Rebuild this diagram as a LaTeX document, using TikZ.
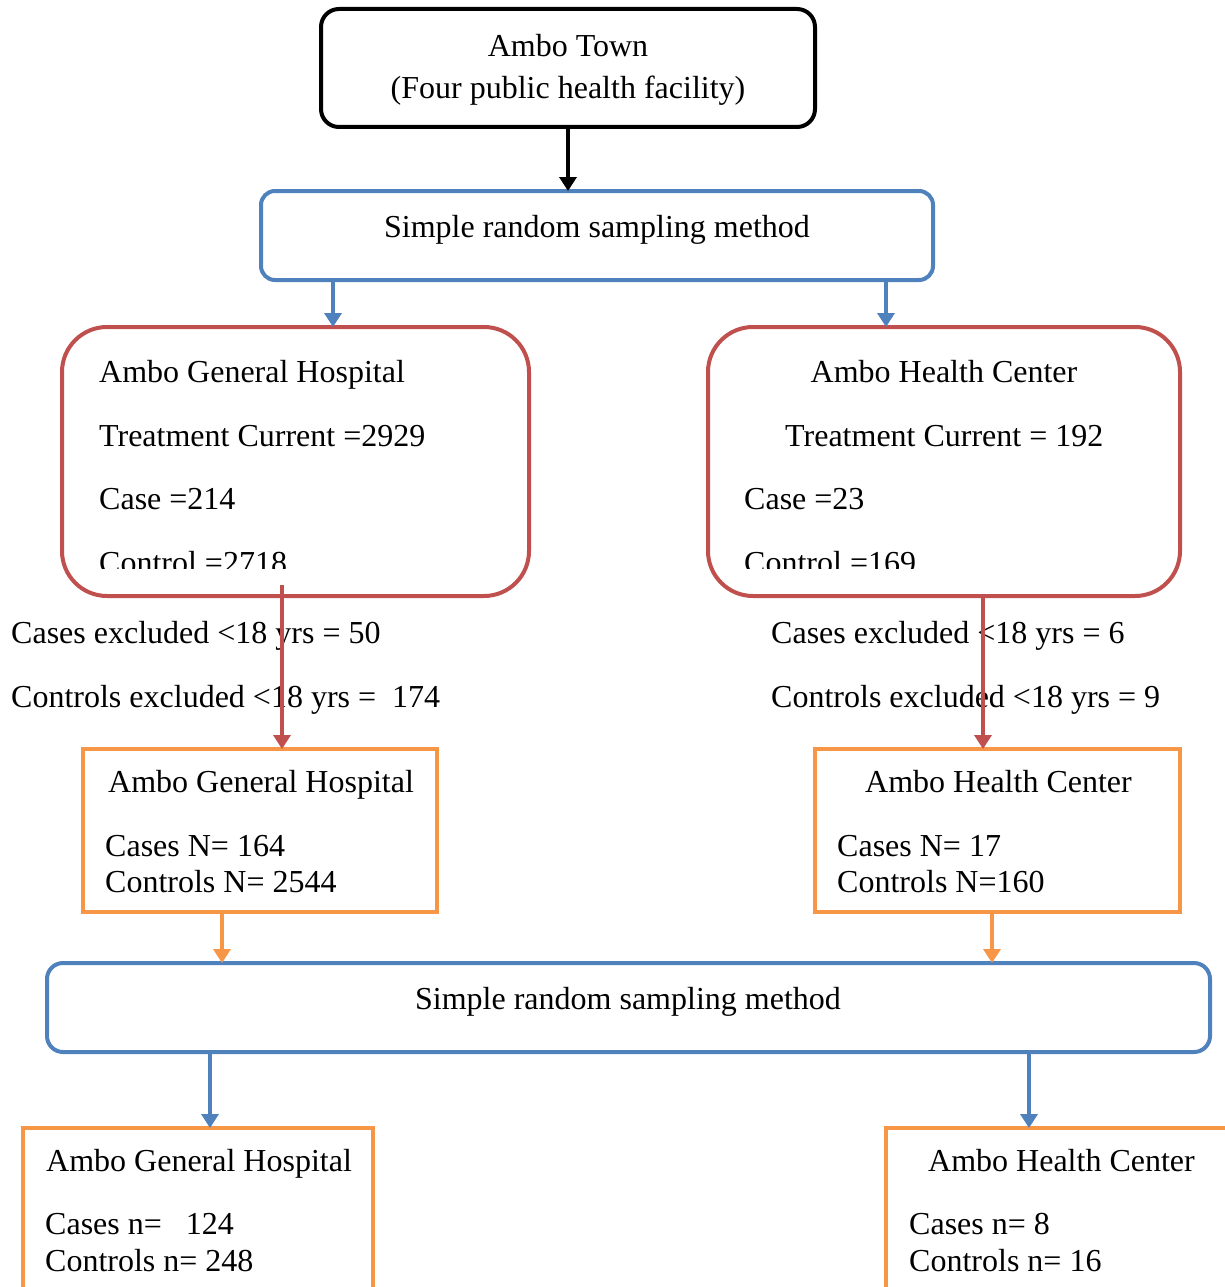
\documentclass[tikz,border=0pt]{standalone}
\usepackage{fontspec}
\setmainfont{Liberation Serif}
\usetikzlibrary{arrows.meta}
\definecolor{srsblue}{HTML}{4F81BD}
\definecolor{sitered}{HTML}{C0504D}
\definecolor{keptorange}{HTML}{F79646}
\tikzset{
  frame/.style={draw, line width=4pt, inner sep=0pt, outer sep=0pt, anchor=north west},
  lbl/.style={anchor=base west, inner sep=0pt, font=\fontsize{32}{38}\selectfont},
  clbl/.style={anchor=base, inner sep=0pt, font=\fontsize{32}{38}\selectfont},
  arr/.style={line width=4pt, -{Triangle[length=14pt,width=17pt]}},
}
\begin{document}
\begin{tikzpicture}[x=1pt,y=-1pt]
            \clip (0,0) rectangle (1225,1287);
            % boxes
            \node[frame, rounded corners=18pt, minimum width=494pt, minimum height=118pt] (town) at (321,9) {};
            \node[frame, srsblue, rounded corners=14pt, minimum width=672pt, minimum height=89pt] (srsA) at (261,191) {};
            \node[frame, sitered, rounded corners=45pt, minimum width=467pt, minimum height=269pt] (hospA) at (62,327) {};
            \node[frame, sitered, rounded corners=45pt, minimum width=472pt, minimum height=269pt] (hcA) at (708,327) {};
            \node[frame, keptorange, minimum width=354pt, minimum height=163pt] (hospB) at (83,749) {};
            \node[frame, keptorange, minimum width=365pt, minimum height=163pt] (hcB) at (815,749) {};
            \node[frame, srsblue, rounded corners=16pt, minimum width=1163pt, minimum height=89pt] (srsB) at (47,963) {};
            \node[frame, keptorange, minimum width=350pt, minimum height=190pt] (hospC) at (23,1128) {};
            \node[frame, keptorange, minimum width=360pt, minimum height=190pt] (hcC) at (886,1128) {};
            % texts
            \node[clbl] (townname) at (568,57) {Ambo Town};
            \node[clbl] (townsub) at (568,99) {(Four public health facility)};
            \node[clbl] (srsAtext) at (597,237) {Simple random sampling method};
            \node[lbl] (hospAname) at (99,382) {Ambo General Hospital};
            \node[lbl] (hospAtc) at (99,446) {Treatment Current =2929};
            \node[lbl] (hospAcase) at (99,509) {Case =214};
            \node[clbl] (hcAname) at (944,382) {Ambo Health Center};
            \node[lbl] (hcAtc) at (785,446) {Treatment Current = 192};
            \node[lbl] (hcAcase) at (744,509) {Case =23};
            \begin{scope}
              \clip (0,0) rectangle (1225,568);
              \node[lbl] (hospActrl) at (99,573) {Control =2718};
              \node[lbl] (hcActrl) at (744,573) {Control =169};
            \end{scope}
            \node[lbl] (exAcase) at (11,643) {Cases excluded <18 yrs = 50};
            \node[lbl] (exActrl) at (11,707) {Controls excluded <18 yrs = \ 174};
            \node[lbl] (exBcase) at (771,643) {Cases excluded <18 yrs = 6};
            \node[lbl] (exBctrl) at (771,707) {Controls excluded <18 yrs = 9};
            \node[lbl] (hospBname) at (108,792) {Ambo General Hospital};
            \node[lbl] (hospBcase) at (105,856) {Cases N= 164};
            \node[lbl] (hospBctrl) at (105,892) {Controls N= 2544};
            \node[lbl] (hcBname) at (865,792) {Ambo Health Center};
            \node[lbl] (hcBcase) at (837,856) {Cases N= 17};
            \node[lbl] (hcBctrl) at (837,892) {Controls N=160};
            \node[clbl] (srsBtext) at (628,1009) {Simple random sampling method};
            \node[lbl] (hospCname) at (46,1171) {Ambo General Hospital};
            \node[lbl] (hospCcase) at (45,1234) {Cases n= \ \ 124};
            \node[lbl] (hospCctrl) at (45,1271) {Controls n= 248};
            \node[lbl] (hcCname) at (928,1171) {Ambo Health Center};
            \node[lbl] (hcCcase) at (909,1234) {Cases n= 8};
            \node[lbl] (hcCctrl) at (909,1271) {Controls n= 16};
            % arrows
            \coordinate (ta) at (333,0);
            \coordinate (tb) at (886,0);
            \coordinate (ra) at (282,585);
            \coordinate (rb) at (983,596);
            \coordinate (oa) at (222,0);
            \coordinate (ob) at (992,0);
            \coordinate (ba) at (210,0);
            \coordinate (bb) at (1029,0);
            \draw [arr] (town.south) -- (town.south |- srsA.north);
            \draw [arr, srsblue] (srsA.south -| ta) -- (hospA.north -| ta);
            \draw [arr, srsblue] (srsA.south -| tb) -- (hcA.north -| tb);
            \draw [arr, sitered] (ra) -- (ra |- hospB.north);
            \draw [arr, sitered] (rb) -- (rb |- hcB.north);
            \draw [arr, keptorange] (hospB.south -| oa) -- (srsB.north -| oa);
            \draw [arr, keptorange] (hcB.south -| ob) -- (srsB.north -| ob);
            \draw [arr, srsblue] (srsB.south -| ba) -- (hospC.north -| ba);
            \draw [arr, srsblue] (srsB.south -| bb) -- (hcC.north -| bb);
        \end{tikzpicture}
\end{document}
